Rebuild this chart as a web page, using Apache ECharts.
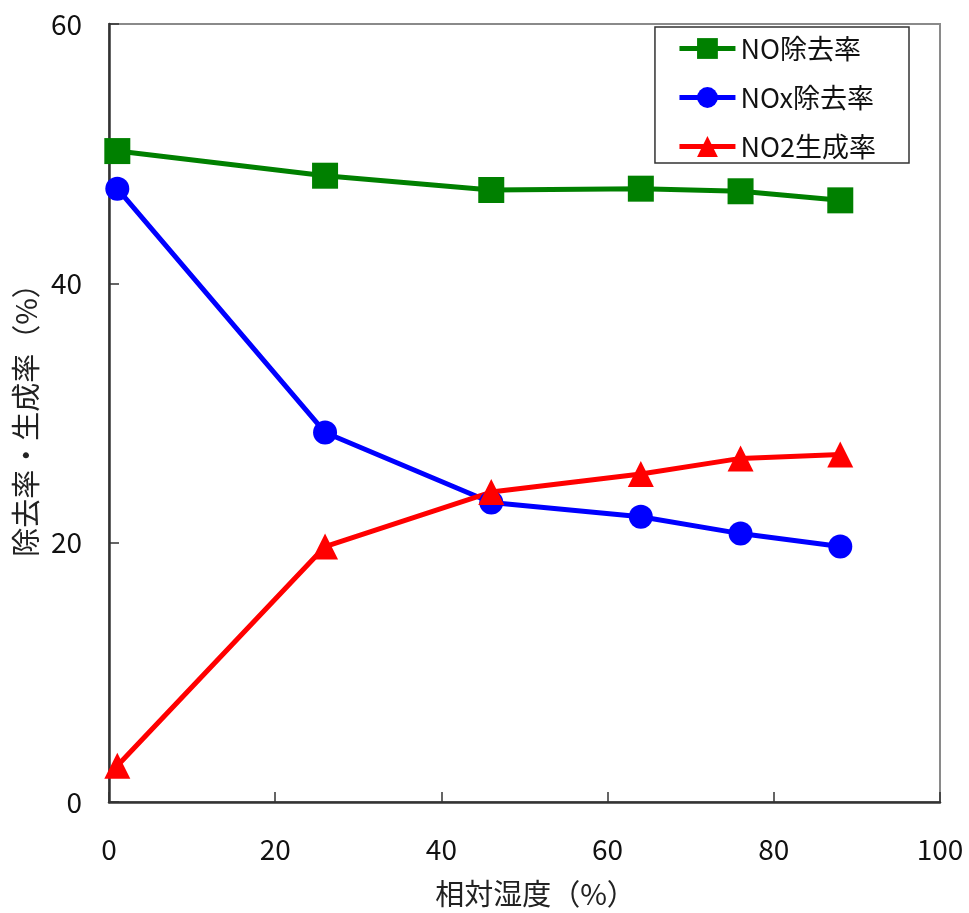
<!DOCTYPE html>
<html>
<head>
<meta charset="utf-8">
<script src="https://cdn.jsdelivr.net/npm/echarts@6/dist/echarts.min.js"></script>
<style>
  html, body { margin: 0; padding: 0; background: #fff; }
  #chart { width: 969px; height: 913px; }
</style>
</head>
<body>
<div id="chart"></div>
<script>
// Relative humidity (%) at each measurement
const humidity = [1, 26, 46, 64, 76, 88];
// Rates (%)
const noRemoval = [50.2, 48.3, 47.2, 47.3, 47.1, 46.4];
const noxRemoval = [47.3, 28.5, 23.1, 22.0, 20.7, 19.7];
const no2Formation = [2.8, 19.7, 23.9, 25.3, 26.5, 26.8];

const seriesNames = ['NO除去率', 'NOx除去率', 'NO2生成率'];
const xTitle = '相対湿度（%）';
const yTitle = '除去率・生成率（%）';

const font = '"Noto Sans CJK JP", "Noto Sans", sans-serif';

function pairs(ys) { return humidity.map((x, i) => [x, ys[i]]); }

const chart = echarts.init(document.getElementById('chart'), null, { renderer: 'canvas' });

const lineSeries = (name, values, color, symbol, size) => ({
  name: name,
  type: 'line',
  data: pairs(values),
  symbol: symbol,
  symbolSize: size,
  showAllSymbol: true,
  lineStyle: { color: color, width: 5 },
  itemStyle: { color: color },
  emphasis: { disabled: true },
  animation: false
});

chart.setOption({
  animation: false,
  grid: {
    left: 109, top: 24, right: 29, bottom: 111,
    outerBoundsMode: 'none',
    containLabel: false,
    show: true, borderColor: '#8a8a8a', borderWidth: 2, backgroundColor: '#fff'
  },
  legend: {
    right: 60, top: 27,
    orient: 'vertical',
    itemGap: 22,
    itemWidth: 56, itemHeight: 26,
    padding: [8, 33, 3, 22],
    borderColor: '#333', borderWidth: 1.5, borderRadius: 0,
    backgroundColor: '#fff',
    lineStyle: { width: 5 },
    textStyle: { fontFamily: font, fontSize: 27, lineHeight: 26, color: '#111' },
    data: seriesNames
  },
  xAxis: {
    type: 'value', min: 0, max: 100, interval: 20,
    name: xTitle, nameLocation: 'middle', nameGap: 77,
    nameTextStyle: { fontFamily: font, fontSize: 29, color: '#222', padding: [0, 0, 0, 22] },
    axisLine: { show: true, lineStyle: { color: '#333', width: 2.5 } },
    axisTick: { show: true, inside: true, length: 10, lineStyle: { color: '#333', width: 1.5 } },
    axisLabel: { fontFamily: font, fontSize: 28, color: '#111', margin: 33 },
    splitLine: { show: false }
  },
  yAxis: {
    type: 'value', min: 0, max: 60, interval: 20,
    name: yTitle, nameLocation: 'middle', nameGap: 66, nameRotate: 90,
    nameTextStyle: { fontFamily: font, fontSize: 29, color: '#222' },
    axisLine: { show: true, lineStyle: { color: '#333', width: 2.5 } },
    axisTick: { show: true, inside: true, length: 10, lineStyle: { color: '#333', width: 1.5 } },
    axisLabel: { fontFamily: font, fontSize: 28, color: '#111', margin: 27 },
    splitLine: { show: false }
  },
  series: [
    lineSeries(seriesNames[0], noRemoval, '#008000', 'rect', 26),
    lineSeries(seriesNames[1], noxRemoval, '#0000ff', 'circle', 24),
    lineSeries(seriesNames[2], no2Formation, '#ff0000', 'triangle', 26)
  ]
});
</script>
</body>
</html>
